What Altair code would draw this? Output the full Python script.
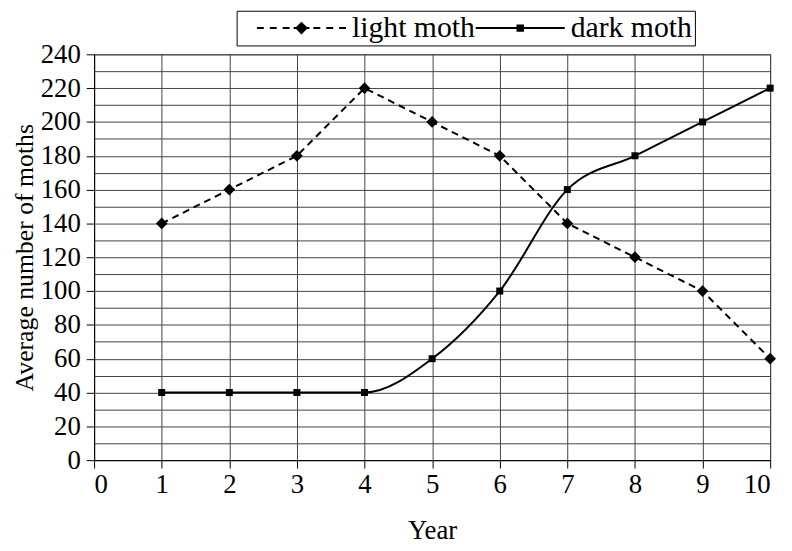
import altair as alt
import pandas as pd

# ---- data ----
years = [1, 2, 3, 4, 5, 6, 7, 8, 9, 10]
light_moth = [140, 160, 180, 220, 200, 180, 140, 120, 100, 60]
dark_moth = [40, 40, 40, 40, 60, 100, 160, 180, 200, 220]
series_names = ["light moth", "dark moth"]
x_tick_values = [0, 1, 2, 3, 4, 5, 6, 7, 8, 9, 10]
y_grid_values = [0, 10, 20, 30, 40, 50, 60, 70, 80, 90, 100, 110, 120,
                 130, 140, 150, 160, 170, 180, 190, 200, 210, 220, 230, 240]

df = pd.DataFrame({
    "Year": years + years,
    "Moths": light_moth + dark_moth,
    "Series": [series_names[0]] * len(years) + [series_names[1]] * len(years),
})

FONT = "Liberation Serif"


def seg(a, b, h=0.2):
    # thin filled bar from a to b (unit coordinates of a legend symbol)
    return f"M{a},{-h}H{b}V{h}H{a}Z"


# legend symbols: line + marker drawn as filled custom SVG paths
LIGHT_PATH = "".join(seg(a, b) for a, b in
                     [(-9, -7.6), (-6.4, -5.0), (-3.8, -2.4), (-1.6, 1.6),
                      (2.4, 3.8), (5.0, 6.4), (7.6, 9)]) + "M-1.3,0L0,-1.3L1.3,0L0,1.3Z"
DARK_PATH = seg(-9, 9) + "M-0.75,-0.75H0.75V0.75H-0.75Z"

x_enc = alt.X(
    "Year:Q",
    scale=alt.Scale(domain=[0, 10], nice=False, zero=False),
    axis=alt.Axis(values=x_tick_values, title="Year", labelPadding=4,
                  titlePadding=20, format="d"),
)
y_enc = alt.Y(
    "Moths:Q",
    scale=alt.Scale(domain=[0, 240], nice=False),
    axis=alt.Axis(
        values=y_grid_values,
        format="d",
        labelExpr="datum.value % 20 == 0 ? datum.label : ''",
        tickColor={"condition": {"test": "datum.value % 20 == 0", "value": "black"},
                   "value": "transparent"},
        title="Average number of moths",
        titleFontSize=26,
        labelPadding=6,
        titlePadding=3,
    ),
)

base = alt.Chart(df)

light_line = base.transform_filter(alt.datum.Series == series_names[0]).mark_line(
    color="black", strokeWidth=2, strokeDash=[7, 5]
).encode(x=x_enc, y=y_enc)

light_pts = base.transform_filter(alt.datum.Series == series_names[0]).mark_point(
    shape="diamond", filled=True, color="black", size=140, opacity=1
).encode(x=x_enc, y=y_enc)

dark_line = base.transform_filter(alt.datum.Series == series_names[1]).mark_line(
    color="black", strokeWidth=2, interpolate="monotone"
).encode(x=x_enc, y=y_enc)

dark_pts = base.transform_filter(alt.datum.Series == series_names[1]).mark_point(
    shape="square", filled=True, color="black", size=50, opacity=1
).encode(x=x_enc, y=y_enc)

legend_layer = base.transform_filter("false").mark_point(
    filled=True, color="black", opacity=1
).encode(
    x=x_enc,
    y=y_enc,
    shape=alt.Shape(
        "Series:N",
        scale=alt.Scale(domain=series_names, range=[LIGHT_PATH, DARK_PATH]),
        legend=alt.Legend(
            title=" ",
            titleOrient="left",
            titleFontSize=1,
            titlePadding=20,
            orient="none",
            direction="horizontal",
            legendX=144,
            legendY=-44,
            padding=2.5,
            strokeColor="black",
            fillColor="white",
            labelFont=FONT,
            labelFontSize=30,
            labelColor="black",
            symbolSize=100,
            symbolOffset=28,
            labelOffset=36,
            columnPadding=0,
            symbolFillColor="black",
            symbolStrokeWidth=0,
            symbolOpacity=1,
        ),
    ),
)

chart = alt.layer(light_line, dark_line, light_pts, dark_pts, legend_layer).properties(
    width=683,
    height=410,
    padding={"left": 87, "top": 44, "right": 14, "bottom": 89},
    autosize=alt.AutoSizeParams(type="none"),
    background="white",
).configure_axis(
    labelFont=FONT,
    titleFont=FONT,
    labelFontSize=27,
    titleFontSize=27,
    labelColor="black",
    titleColor="black",
    titleFontWeight="normal",
    gridColor="#444444",
    gridWidth=1,
    domainColor="black",
    domainWidth=1,
    tickColor="black",
    tickSize=8,
).configure_view(stroke="#444444")

chart.save("out.html", embed_options={"renderer": "svg", "actions": False})
